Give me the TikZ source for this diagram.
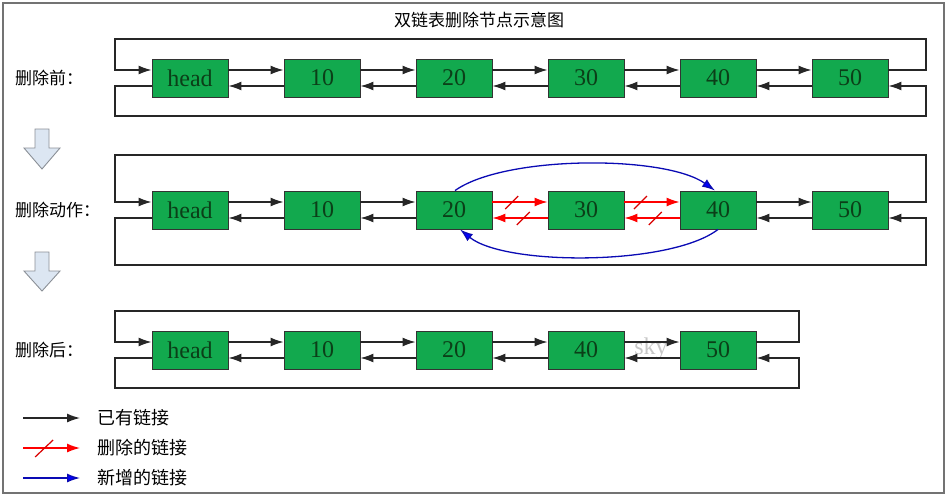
\documentclass[tikz,border=0pt]{standalone}
\usepackage{fontspec}
\setmainfont{Liberation Serif}
\newfontfamily\cjk{Noto Sans CJK SC}
\usetikzlibrary{arrows.meta,calc}
\definecolor{nodegreen}{HTML}{12A94E}
\definecolor{textgreen}{HTML}{0B3F18}
\definecolor{linkgray}{HTML}{262626}
\definecolor{arrowfill}{HTML}{DCE6F2}
\definecolor{arrowedge}{HTML}{8A8F96}
\definecolor{darkblue}{HTML}{0A0AB4}
\begin{document}
\begin{tikzpicture}[x=1pt,y=-1pt,
  listnode/.style={draw=black!80, line width=0.9pt, fill=nodegreen, minimum width=76pt, minimum height=38pt, inner sep=0pt, text=textgreen, font=\fontsize{24}{24}\selectfont},
  link/.style={draw=linkgray, line width=1.3pt, -{Latex[length=13pt,width=9pt]}},
  dellink/.style={draw=red, line width=1.3pt, -{Latex[length=13pt,width=9pt]}},
  newlink/.style={draw=darkblue, line width=1.3pt, -{Latex[length=13pt,width=9pt,fill=blue]}},
  slash/.style={draw=red!85!black, line width=1.2pt},
  lbl/.style={anchor=west, inner sep=0pt, font=\cjk\fontsize{17}{17}\selectfont},
  legtext/.style={anchor=west, inner sep=0pt, font=\cjk\fontsize{18}{18}\selectfont},
  downarrow/.style={draw=arrowedge, fill=arrowfill, line width=0.9pt, line join=miter}
]
\useasboundingbox (0,0) rectangle (949,496);
\draw[draw=black!55, line width=1.5pt] (3,3) rectangle (944,493);

\node[inner sep=0pt, font=\cjk\fontsize{17}{17}\selectfont] (title) at (479,20) {双链表删除节点示意图};

% row labels
\node[lbl] (l1) at (15,78) {删除前：};
\node[lbl] (l2) at (15,210) {删除动作：};
\node[lbl] (l3) at (15,350) {删除后：};

% down arrows
\draw[downarrow] (35,129) -- (49,129) -- (49,148) -- (60,148) -- (42,169) -- (24,148) -- (35,148) -- cycle;
\draw[downarrow] (35,252) -- (49,252) -- (49,271) -- (60,271) -- (42,291) -- (24,271) -- (35,271) -- cycle;

% watermark
\node[text=black!22, font=\fontsize{24}{24}\selectfont, inner sep=0pt] (wm) at (651,349) {sky};

% row 1
\node[listnode] (a1) at (190,78) {head};
\node[listnode] (a2) at (322,78) {10};
\node[listnode] (a3) at (454,78) {20};
\node[listnode] (a4) at (586,78) {30};
\node[listnode] (a5) at (718,78) {40};
\node[listnode] (a6) at (850,78) {50};
\foreach \i [evaluate=\i as \j using int(\i+1)] in {1,...,5} {
  \draw[link] ([yshift=8pt]a\i.east) -- ([yshift=8pt]a\j.west);
  \draw[link] ([yshift=-8pt]a\j.west) -- ([yshift=-8pt]a\i.east);
}
\draw[link] ([yshift=8pt]a6.east) -| (926,39) -| (115,70) -- ([yshift=8pt]a1.west);
\draw[link] ([yshift=-8pt]a1.west) -| (115,116) -| (926,86) -- ([yshift=-8pt]a6.east);

% row 2
\node[listnode] (b1) at (190,210) {head};
\node[listnode] (b2) at (322,210) {10};
\node[listnode] (b3) at (454,210) {20};
\node[listnode] (b4) at (586,210) {30};
\node[listnode] (b5) at (718,210) {40};
\node[listnode] (b6) at (850,210) {50};
\foreach \i [evaluate=\i as \j using int(\i+1)] in {1,2,5} {
  \draw[link] ([yshift=8pt]b\i.east) -- ([yshift=8pt]b\j.west);
  \draw[link] ([yshift=-8pt]b\j.west) -- ([yshift=-8pt]b\i.east);
}
\draw[dellink] ([yshift=8pt]b3.east) -- coordinate[pos=0.35] (s1) ([yshift=8pt]b4.west);
\draw[dellink] ([yshift=-8pt]b4.west) -- coordinate[pos=0.44] (s2) ([yshift=-8pt]b3.east);
\draw[dellink] ([yshift=8pt]b4.east) -- coordinate[pos=0.29] (s3) ([yshift=8pt]b5.west);
\draw[dellink] ([yshift=-8pt]b5.west) -- coordinate[pos=0.44] (s4) ([yshift=-8pt]b4.east);
\foreach \s in {s1,s2,s3,s4} {
  \draw[slash] ($(\s)+(-6.5,7)$) -- ($(\s)+(6.5,-6)$);
}
\draw[newlink] ([xshift=1pt]b3.north) .. controls (505,155) and (665,155) .. ([xshift=-3pt]b5.north);
\draw[newlink] (b5.south) .. controls (670,266) and (505,266) .. ([xshift=6pt]b3.south);
\draw[link] ([yshift=8pt]b6.east) -| (926,155) -| (115,202) -- ([yshift=8pt]b1.west);
\draw[link] ([yshift=-8pt]b1.west) -| (115,265) -| (926,218) -- ([yshift=-8pt]b6.east);

% row 3
\node[listnode] (c1) at (190,350) {head};
\node[listnode] (c2) at (322,350) {10};
\node[listnode] (c3) at (454,350) {20};
\node[listnode] (c4) at (586,350) {40};
\node[listnode] (c5) at (718,350) {50};
\foreach \i [evaluate=\i as \j using int(\i+1)] in {1,...,4} {
  \draw[link] ([yshift=8pt]c\i.east) -- ([yshift=8pt]c\j.west);
  \draw[link] ([yshift=-8pt]c\j.west) -- ([yshift=-8pt]c\i.east);
}
\draw[link] ([yshift=8pt]c5.east) -| (799,311) -| (115,342) -- ([yshift=8pt]c1.west);
\draw[link] ([yshift=-8pt]c1.west) -| (115,388) -| (799,358) -- ([yshift=-8pt]c5.east);

% legend
\coordinate (k1s) at (23,418); \coordinate (k1e) at (80,418);
\coordinate (k2s) at (23,448); \coordinate (k2e) at (80,448);
\coordinate (k3s) at (23,478); \coordinate (k3e) at (80,478);
\draw[link] (k1s) -- (k1e);
\draw[dellink] (k2s) -- coordinate[pos=0.37] (ks) (k2e);
\draw[slash] ($(ks)+(-9,9)$) -- ($(ks)+(9,-8)$);
\draw[newlink] (k3s) -- (k3e);
\node[legtext] (g1) at (97,418) {已有链接};
\node[legtext] (g2) at (97,448) {删除的链接};
\node[legtext] (g3) at (97,478) {新增的链接};
\end{tikzpicture}
\end{document}
